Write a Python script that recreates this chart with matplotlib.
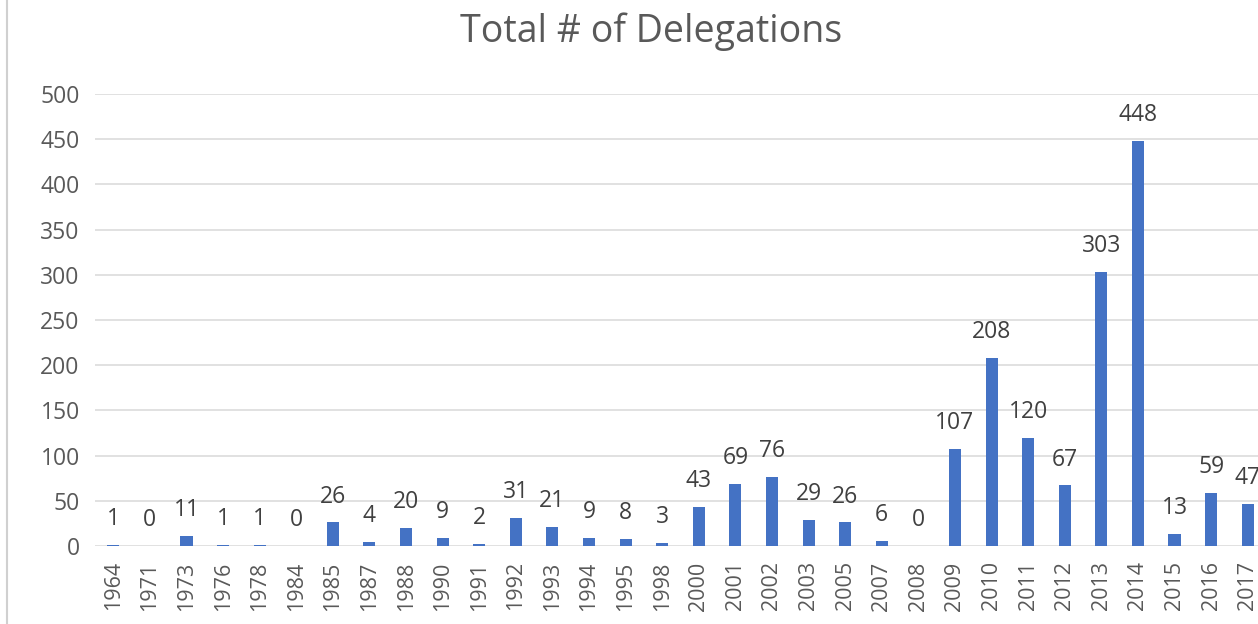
import matplotlib
matplotlib.use("Agg")
import matplotlib.pyplot as plt
from matplotlib.lines import Line2D

# ── data ─────────────────────────────────────────────────────────────────────
years = ["1964", "1971", "1973", "1976", "1978", "1984", "1985", "1987", "1988",
         "1990", "1991", "1992", "1993", "1994", "1995", "1998", "2000", "2001",
         "2002", "2003", "2005", "2007", "2008", "2009", "2010", "2011", "2012",
         "2013", "2014", "2015", "2016", "2017"]
delegations = [1, 0, 11, 1, 1, 0, 26, 4, 20, 9, 2, 31, 21, 9, 8, 3, 43, 69,
               76, 29, 26, 6, 0, 107, 208, 120, 67, 303, 448, 13, 59, 47]
y_ticks = [0, 50, 100, 150, 200, 250, 300, 350, 400, 450, 500]

# ── style ────────────────────────────────────────────────────────────────────
C_BAR = "#4472C4"
C_GRID = "#D9D9D9"
C_TEXT = "#595959"
C_LABEL = "#404040"
plt.rcParams['font.family'] = ['Open Sans', 'DejaVu Sans']

W, H = 1258, 624
fig = plt.figure(figsize=(W / 100, H / 100), dpi=100)
fig.patch.set_facecolor("white")

# axes run a little past the right edge (the original is cropped there)
ax = fig.add_axes([95 / W, 78 / H, 1171 / W, 452 / H])
x = list(range(len(years)))
ax.bar(x, delegations, width=0.33, color=C_BAR, zorder=3)

ax.set_xlim(-0.5, len(years) - 0.5)
ax.set_ylim(0, 500)
ax.set_yticks(y_ticks)
ax.set_xticks(x)
ax.set_xticklabels(years, rotation=90)
ax.tick_params(axis="both", length=0, colors=C_TEXT)
ax.tick_params(axis="y", pad=11, labelsize=16.5)
ax.tick_params(axis="x", pad=11, labelsize=15.5)
ax.grid(axis="y", color=C_GRID, lw=1.1, zorder=0)
for s in ax.spines.values():
    s.set_visible(False)

for xi, v in zip(x, delegations):
    ax.annotate(str(v), (xi, v), xytext=(0, 10), textcoords="offset points",
                ha="center", va="bottom", fontsize=16.5, color=C_LABEL,
                annotation_clip=False)

fig.text(651 / W, 1 - 32 / H, "Total # of Delegations", ha="center",
         va="center", fontsize=27, color=C_TEXT)

# thin frame line at the left edge
fig.add_artist(Line2D([7 / W, 7 / W], [0, 1], transform=fig.transFigure,
                      color="#D0D0D0", lw=1.5))

fig.savefig("out.png", dpi=100, facecolor="white")
